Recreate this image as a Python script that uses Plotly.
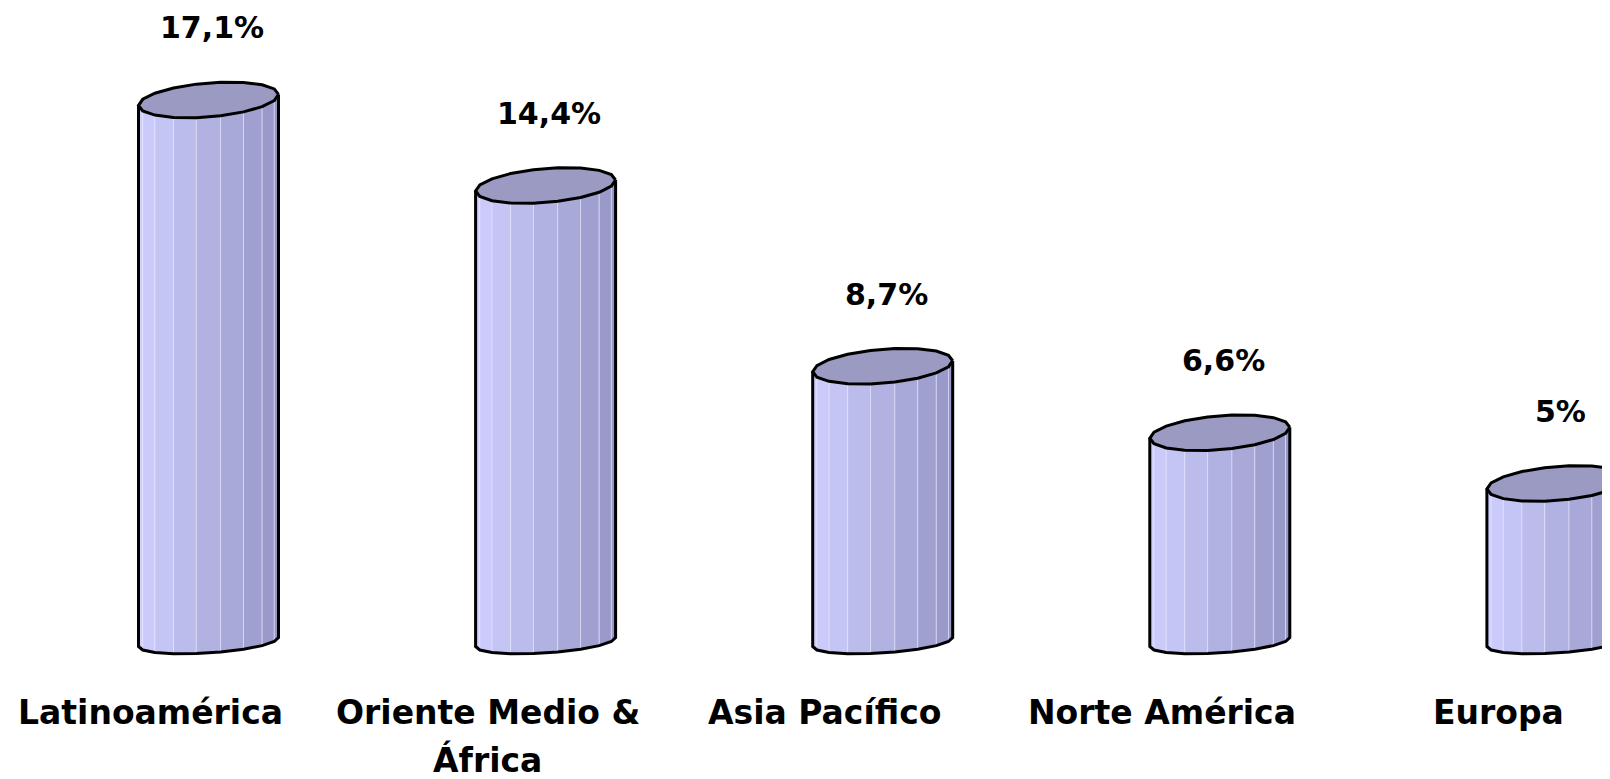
import numpy as np
import plotly.graph_objects as go

# ---- data ----
categories = ["Latinoamérica", "Oriente Medio & África", "Asia Pacífico", "Norte América", "Europa"]
category_lines = [["Latinoamérica"], ["Oriente Medio &", "África"], ["Asia Pacífico"], ["Norte América"], ["Europa"]]
values = [17.1, 14.4, 8.7, 6.6, 5.0]
value_labels = [f"{v:g}".replace(".", ",") + "%" for v in values]

# ---- geometry (pixel-based constants converted to data units) ----
PAGE_OFF = 8   # browser default body margin
PX_X = 337.1   # px per category unit
PX_Y = 31.7    # px per value unit
W, H = 1610, 779
X0_PX = 208.5 - PAGE_OFF  # figure pixel x of first category
Y0_PX = 642.0 - PAGE_OFF  # figure pixel y of value 0

x_range = [-X0_PX / PX_X, (W - X0_PX) / PX_X]
y_range = [-(H - Y0_PX) / PX_Y, Y0_PX / PX_Y]

A = 70 / PX_X          # half width
B_TOP = 17 / PX_Y      # top ellipse half-height
B_BOT = 11 / PX_Y      # bottom ellipse half-height
T_TOP = 5.5 / PX_Y     # tilt (right end higher)
T_BOT = 4.5 / PX_Y
NSEG = 18

c_light = np.array([206, 206, 255])
c_dark = np.array([150, 150, 198])
top_color = "rgb(154,154,194)"

fig = go.Figure()

def ell(cx, cy, b, t, th, front=True):
    s = -1 if front else 1
    return cx + A * np.cos(th), cy + s * b * np.sin(th) + t * np.cos(th)

front_th = np.linspace(np.pi, 0, NSEG // 2 + 1)  # left -> right
for i, v in enumerate(values):
    cx = i
    # side stripes
    for k in range(len(front_th) - 1):
        t0, t1 = front_th[k], front_th[k + 1]
        xb0, yb0 = ell(cx, 0, B_BOT, T_BOT, t0)
        xb1, yb1 = ell(cx, 0, B_BOT, T_BOT, t1)
        xt0, yt0 = ell(cx, v, B_TOP, T_TOP, t0)
        xt1, yt1 = ell(cx, v, B_TOP, T_TOP, t1)
        f = (1 + np.cos((t0 + t1) / 2)) / 2  # 0 left .. 1 right
        col = c_light + (c_dark - c_light) * f
        fig.add_trace(go.Scatter(
            x=[xb0, xb1, xt1, xt0, xb0], y=[yb0, yb1, yt1, yt0, yb0],
            mode="lines", fill="toself",
            fillcolor=f"rgb({col[0]:.0f},{col[1]:.0f},{col[2]:.0f})",
            line=dict(color="rgba(235,235,255,0.5)", width=1),
            hoverinfo="skip", showlegend=False))
    # side outline
    xs, ys = [], []
    xl, yl = ell(cx, v, B_TOP, T_TOP, np.pi)
    xs.append(xl); ys.append(yl)
    for th in front_th:
        x_, y_ = ell(cx, 0, B_BOT, T_BOT, th)
        xs.append(x_); ys.append(y_)
    xr, yr = ell(cx, v, B_TOP, T_TOP, 0)
    xs.append(xr); ys.append(yr)
    fig.add_trace(go.Scatter(x=xs, y=ys, mode="lines",
                             line=dict(color="black", width=3),
                             hoverinfo="skip", showlegend=False))
    # top ellipse
    th_all = np.linspace(0, 2 * np.pi, NSEG + 1)
    xt = cx + A * np.cos(th_all)
    yt = v + B_TOP * np.sin(th_all) + T_TOP * np.cos(th_all)
    fig.add_trace(go.Scatter(x=xt, y=yt, mode="lines", fill="toself",
                             fillcolor=top_color,
                             line=dict(color="black", width=3),
                             hoverinfo="skip", showlegend=False))

LABEL_GAP = 72 / PX_Y
for i, (v, lab) in enumerate(zip(values, value_labels)):
    fig.add_annotation(x=i + 0.01, y=v + LABEL_GAP, text=f"<b>{lab}</b>",
                       showarrow=False, xanchor="center", yanchor="middle",
                       font=dict(family="DejaVu Sans", size=30, color="black"))

CAT_SHIFT = -58 / PX_X
LINE1_Y = -(712.5 - 642.0) / PX_Y
LINE_STEP = 47 / PX_Y
for i, lines in enumerate(category_lines):
    for j, ln in enumerate(lines):
        fig.add_annotation(x=i + CAT_SHIFT, y=LINE1_Y - j * LINE_STEP,
                           text=f"<b>{ln}</b>", showarrow=False,
                           xanchor="center", yanchor="middle",
                           font=dict(family="DejaVu Sans", size=33, color="black"))

fig.update_layout(
    width=W, height=H,
    margin=dict(l=0, r=0, t=0, b=0),
    paper_bgcolor="white", plot_bgcolor="white",
    xaxis=dict(range=x_range, visible=False, fixedrange=True),
    yaxis=dict(range=y_range, visible=False, fixedrange=True),
    showlegend=False,
)

fig.write_html("out.html")
